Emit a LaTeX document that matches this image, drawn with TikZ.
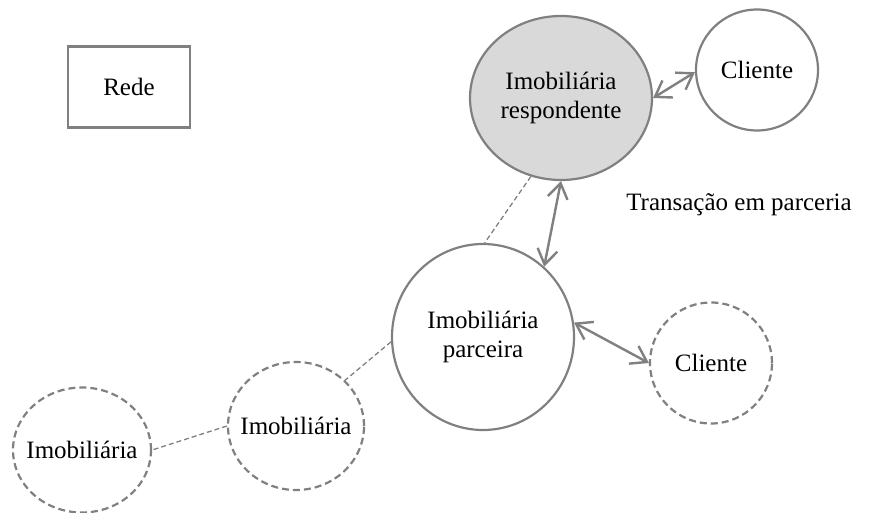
\documentclass[tikz,border=0pt]{standalone}
\usepackage{fontspec}
\setmainfont{Liberation Serif}
\usetikzlibrary{shapes.geometric,arrows.meta}
\definecolor{edge}{HTML}{808080}
\definecolor{shade}{HTML}{D9D9D9}
\tikzset{
  txt/.style={font=\fontsize{25}{29.5}\selectfont, align=center, inner sep=0pt},
  firm/.style={ellipse, draw=edge, line width=2.2pt, inner sep=0pt},
  other/.style={ellipse, draw=edge, line width=2.2pt, inner sep=0pt, dash pattern=on 7pt off 4pt},
  barb/.style={Straight Barb[length=15pt,width=20pt]},
  link/.style={draw=edge, line width=2.4pt, {Straight Barb[length=15pt,width=20pt]}-{Straight Barb[length=15pt,width=20pt]}},
  tie/.style={draw=edge, line width=1.3pt, dash pattern=on 5pt off 3pt},
  box/.style={rectangle, draw=edge, line width=2.5pt, minimum width=122pt, minimum height=81pt, inner sep=0pt}
}
\begin{document}
\begin{tikzpicture}[x=1pt,y=-1pt]
\useasboundingbox (0,0) rectangle (869,513);

\node[box, txt] (rede) at (129,87) {Rede};

\node[firm, fill=shade, minimum width=182pt, minimum height=164pt,
      label={[txt, name=respt]center:Imobiliária\\respondente}] (resp) at (561,98) {};
\node[firm, minimum width=122pt, minimum height=121pt,
      label={[txt, name=cli1t]center:Cliente}] (cli1) at (757,70) {};
\node[txt] (trans) at (739,205) {Transação em parceria};
\node[firm, minimum width=182pt, minimum height=186pt,
      label={[txt, name=parct]center:Imobiliária\\parceira}] (parc) at (483,337) {};
\node[other, minimum width=122pt, minimum height=121pt,
      label={[txt, name=cli2t]center:Cliente}] (cli2) at (711,363) {};
\node[other, minimum width=136pt, minimum height=128pt,
      label={[txt, name=midt]center:Imobiliária}] (mid) at (296,426) {};
\node[other, minimum width=138pt, minimum height=125pt,
      label={[txt, name=leftt]center:Imobiliária}] (far) at (82,450) {};

% partnership links
\draw[link] (resp.east) -- (cli1.182);
\draw[link] (resp.south) -- (parc.49);
\draw[link] (parc.9) -- (cli2.west);

% network ties
\draw[tie] (resp.249) -- (parc.89);
\draw[tie] (parc.183) -- (mid.43);
\draw[tie] (mid.west) -- (far.east);
\end{tikzpicture}
\end{document}
